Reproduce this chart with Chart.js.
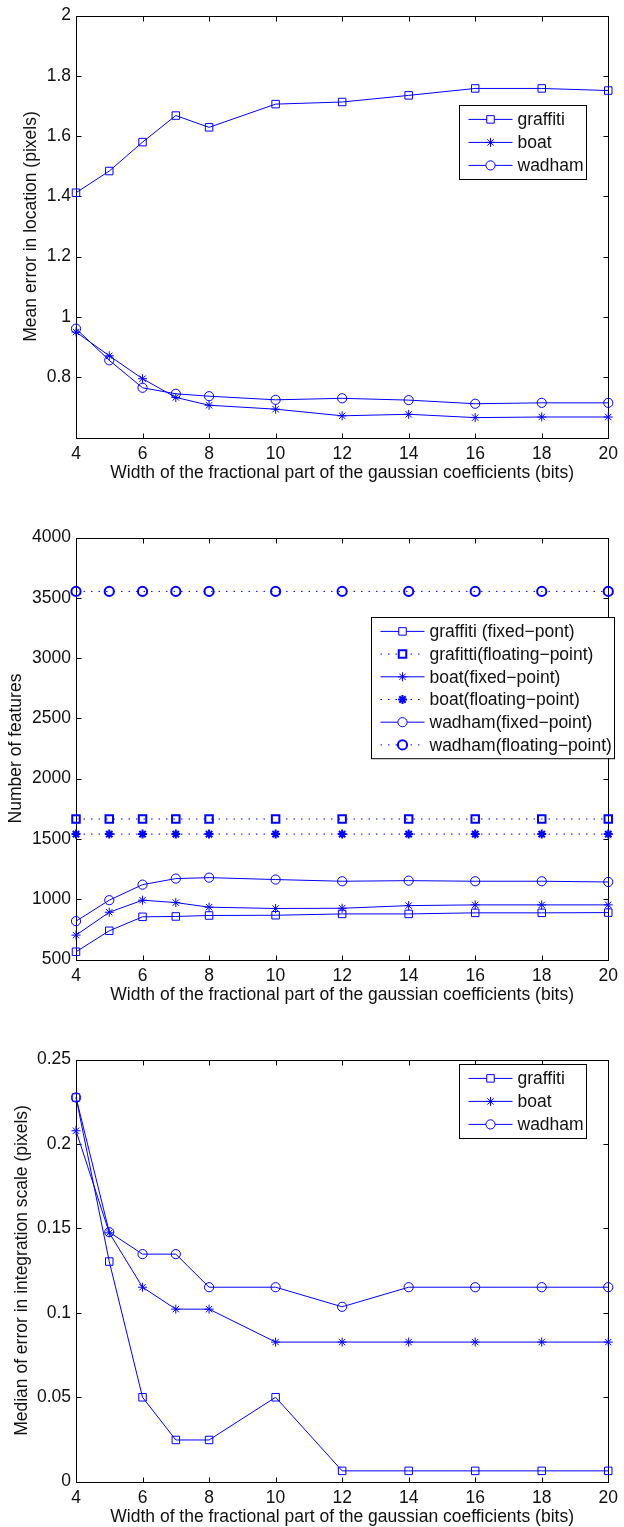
<!DOCTYPE html>
<html>
<head>
<meta charset="utf-8">
<script src="https://cdn.jsdelivr.net/npm/chart.js@4.4.1/dist/chart.umd.min.js"></script>
<style>
html,body{margin:0;padding:0;background:#fff;}
canvas{display:block;}
</style>
</head>
<body>
<canvas id="locChart" width="624" height="522"></canvas>
<canvas id="featChart" width="624" height="522"></canvas>
<canvas id="scaleChart" width="624" height="483"></canvas>
<script>
/* =====================
   Data
===================== */

const bits=[4,5,6,7,8,10,12,14,16,18,20];
const bitTicks=[4,6,8,10,12,14,16,18,20];

// mean error in location (pixels)
const locGraffiti=[1.412,1.484,1.580,1.668,1.629,1.706,1.713,1.735,1.758,1.758,1.751];
const locBoat=[0.950,0.871,0.795,0.733,0.707,0.694,0.672,0.677,0.666,0.668,0.668];
const locWadham=[0.961,0.856,0.765,0.745,0.737,0.725,0.730,0.724,0.712,0.715,0.715];
const locTicks=[0.8,1,1.2,1.4,1.6,1.8,2];

// number of features
const featGraffitiFixed=[564,738,854,857,865,867,878,878,887,887,889];
const featGraffitiFloat=[1665,1665,1665,1665,1665,1665,1665,1665,1665,1665,1665];
const featBoatFixed=[702,892,992,972,934,923,925,947,953,953,953];
const featBoatFloat=[1540,1540,1540,1540,1540,1540,1540,1540,1540,1540,1540];
const featWadhamFixed=[818,992,1121,1171,1179,1163,1149,1154,1149,1149,1143];
const featWadhamFloat=[3553,3553,3553,3553,3553,3553,3553,3553,3553,3553,3553];
const featTicks=[500,1000,1500,2000,2500,3000,3500,4000];

// median of error in integration scale (pixels)
const scaleGraffiti=[0.2275,0.1303,0.0499,0.0246,0.0246,0.0499,0.0063,0.0063,0.0063,0.0063,0.0063];
const scaleBoat=[0.2078,0.1473,0.1151,0.1021,0.1021,0.0826,0.0826,0.0826,0.0826,0.0826,0.0826];
const scaleWadham=[0.2275,0.1477,0.1347,0.1347,0.1151,0.1151,0.1035,0.1151,0.1151,0.1151,0.1151];
const scaleTicks=[0,0.05,0.1,0.15,0.2,0.25];

const xTitle="Width of the fractional part of the gaussian coefficients (bits)";

/* =====================
   Defaults
===================== */

const FONT_SIZE=17.5;
const HALF_LINE=FONT_SIZE*1.2/2;

Chart.defaults.font.family='"Liberation Sans", Arial, sans-serif';
Chart.defaults.font.size=FONT_SIZE;
Chart.defaults.color='#111';

const BLUE='#0000ff';

/* =====================
   Plugins
===================== */

// boxed axes with inward tick marks on all four sides
const axesBox={
id:'axesBox',
beforeDatasetsDraw(chart){
const {ctx,chartArea:a,scales:{x,y}}=chart;
const l=Math.round(a.left)+0.5,r=Math.round(a.right)+0.5,t=Math.round(a.top)+0.5,b=Math.round(a.bottom)+0.5;
ctx.save();
ctx.strokeStyle='#000';
ctx.lineWidth=1;
ctx.strokeRect(l,t,r-l,b-t);
ctx.beginPath();
x.ticks.forEach(tk=>{
let px=Math.round(x.getPixelForValue(tk.value))+0.5;
ctx.moveTo(px,b);ctx.lineTo(px,b-5);
ctx.moveTo(px,t);ctx.lineTo(px,t+5);
});
y.ticks.forEach(tk=>{
let py=Math.round(y.getPixelForValue(tk.value))+0.5;
ctx.moveTo(l,py);ctx.lineTo(l+5,py);
ctx.moveTo(r,py);ctx.lineTo(r-5,py);
});
ctx.stroke();
ctx.restore();
}
};

// legend box drawn inside the plot
const boxLegend={
id:'boxLegend',
afterDraw(chart,args,opts){
const ctx=chart.ctx;
const sets=chart.data.datasets;
const h=sets.length*opts.rowGap+5;
ctx.save();
ctx.fillStyle='#fff';
ctx.fillRect(opts.left,opts.top,opts.width,h);
ctx.strokeStyle='#000';
ctx.lineWidth=1;
ctx.strokeRect(opts.left+0.5,opts.top+0.5,opts.width,h);
sets.forEach((ds,i)=>{
let yy=opts.top+14.4+i*opts.rowGap;
let x0=opts.left+9.5,x1=x0+44;
ctx.strokeStyle=ds.borderColor;
ctx.lineWidth=ds.borderWidth;
ctx.setLineDash(ds.borderDash);
ctx.beginPath();
ctx.moveTo(x0,yy);ctx.lineTo(x1,yy);
ctx.stroke();
ctx.setLineDash([]);
ctx.strokeStyle=ds.pointBorderColor;
ctx.fillStyle='#fff';
ctx.lineWidth=ds.pointBorderWidth;
Chart.helpers.drawPoint(ctx,{pointStyle:ds.pointStyle,radius:ds.pointRadius,borderWidth:ds.pointBorderWidth,rotation:0},(x0+x1)/2,yy);
ctx.fillStyle='#111';
ctx.font=FONT_SIZE+'px "Liberation Sans", Arial, sans-serif';
ctx.textBaseline='middle';
ctx.textAlign='left';
ctx.fillText(ds.label,x1+5,yy+1);
});
ctx.restore();
}
};

/* =====================
   Builders
===================== */

function series(label,values,style,dotted){
return{
label:label,
data:bits.map((b,i)=>({x:b,y:values[i]})),
borderColor:BLUE,
borderWidth:1,
borderDash:dotted?[1.5,6]:[],
pointStyle:style,
pointRadius:style==="rect"?5.3:(style==="star"?4.5:4.6),
pointBorderColor:BLUE,
pointBackgroundColor:"rgba(0,0,0,0)",
pointBorderWidth:dotted?2:1,
tension:0,
clip:false
};
}

function makeChart(id,datasets,yMin,yMax,yTicks,yTitle,yTitleX,legend){
const canvas=document.getElementById(id);
const xHeight=canvas.height-15-422.5;
return new Chart(canvas,{
type:"line",
data:{datasets:datasets},
plugins:[axesBox,boxLegend],
options:{
responsive:false,
animation:false,
events:[],
layout:{padding:{top:15,right:12,left:0,bottom:0}},
plugins:{legend:{display:false},tooltip:{enabled:false},boxLegend:legend},
scales:{
x:{
type:"linear",min:4,max:20,
afterBuildTicks:s=>{s.ticks=bitTicks.map(v=>({value:v}));},
afterFit:s=>{s.height=xHeight;},
grid:{display:false,drawTicks:false},
border:{display:false},
ticks:{padding:6,maxRotation:0,autoSkip:false,callback:v=>String(v)},
title:{display:true,text:xTitle,padding:{top:0,bottom:xHeight-35.5-HALF_LINE}}
},
y:{
type:"linear",min:yMin,max:yMax,
afterBuildTicks:s=>{s.ticks=yTicks.map(v=>({value:v}));},
afterFit:s=>{s.width=76;},
grid:{display:false,drawTicks:false},
border:{display:false},
ticks:{padding:5,autoSkip:false,callback:v=>String(+(+v).toFixed(2))},
title:{display:true,text:yTitle,padding:{top:yTitleX-HALF_LINE,bottom:0}}
}
}
}
});
}

/* =====================
   Charts
===================== */

makeChart("locChart",[
series("graffiti",locGraffiti,"rect",false),
series("boat",locBoat,"star",false),
series("wadham",locWadham,"circle",false)
],0.6,2,locTicks,"Mean error in location (pixels)",31,
{left:459,top:105,width:127,rowGap:23});

makeChart("featChart",[
series("graffiti (fixed\u2212pont)",featGraffitiFixed,"rect",false),
series("grafitti(floating\u2212point)",featGraffitiFloat,"rect",true),
series("boat(fixed\u2212point)",featBoatFixed,"star",false),
series("boat(floating\u2212point)",featBoatFloat,"star",true),
series("wadham(fixed\u2212point)",featWadhamFixed,"circle",false),
series("wadham(floating\u2212point)",featWadhamFloat,"circle",true)
],500,4000,featTicks,"Number of features",16,
{left:371,top:95,width:243,rowGap:22.7});

makeChart("scaleChart",[
series("graffiti",scaleGraffiti,"rect",false),
series("boat",scaleBoat,"star",false),
series("wadham",scaleWadham,"circle",false)
],0,0.25,scaleTicks,"Median of error in integration scale (pixels)",22,
{left:459,top:20,width:127,rowGap:23});
</script>
</body>
</html>
